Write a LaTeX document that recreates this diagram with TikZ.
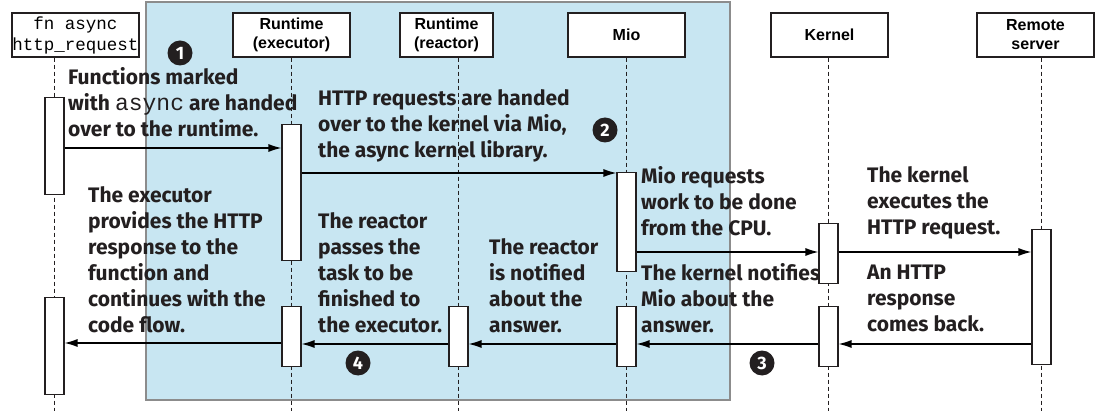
\documentclass[tikz,border=0pt]{standalone}
\usepackage{fontspec}
\usetikzlibrary{arrows.meta}
\newfontfamily\annotfont{Fira Sans}
\newfontfamily\hdrfont{Liberation Sans}
\newfontfamily\codefont{Liberation Mono}
\definecolor{panel}{RGB}{200,230,242}
\definecolor{ink}{RGB}{35,31,32}
\tikzset{
  hdr/.style={draw=ink, fill=white, line width=1.2pt, inner sep=0pt, minimum height=44pt, align=center,
    font=\hdrfont\bfseries\fontsize{16}{19}\selectfont},
  life/.style={draw=ink, dashed, line width=1pt, dash pattern=on 4pt off 3pt},
  act/.style={draw=ink, fill=white, line width=1.1pt, minimum width=19pt, inner sep=0pt},
  msg/.style={draw=black, line width=1.2pt, -{Latex[length=13pt,width=8pt]}},
  note/.style={anchor=base west, inner sep=0pt, align=left, text=ink,
    font=\annotfont\bfseries\fontsize{21}{26}\selectfont},
  num/.style={circle, fill=ink, text=white, minimum size=25pt, inner sep=0pt,
    font=\annotfont\bfseries\fontsize{18}{18}\selectfont}
}
\begin{document}
\begin{tikzpicture}[x=1pt,y=-1pt]
\useasboundingbox (0,0) rectangle (1097,411);
% panel
\filldraw[fill=panel, draw=black!45, line width=1.2pt] (146,2) rectangle (730,400);
% headers
\node[hdr, minimum width=127pt, font=\codefont\fontsize{17.5}{21}\selectfont] (hfn) at (75.5,35) {fn async\\http\_request};
\node[hdr, minimum width=117pt] (hex) at (291.5,35) {Runtime\\(executor)};
\node[hdr, minimum width=93pt] (hre) at (446.5,35) {Runtime\\(reactor)};
\node[hdr, minimum width=117pt] (hmio) at (626.5,35) {Mio};
\node[hdr, minimum width=117pt] (hker) at (829.5,35) {Kernel};
\node[hdr, minimum width=117pt] (hrem) at (1035.5,35) {Remote\\server};
% lifeline ends
\coordinate (efn) at (54.5,411);
\coordinate (eex) at (291.5,411);
\coordinate (ere) at (458.5,411);
\coordinate (emio) at (626.5,411);
\coordinate (eker) at (828.5,411);
\coordinate (erem) at (1041.5,411);
\draw[life] (efn |- hfn.south) -- (efn);
\draw[life] (eex |- hex.south) -- (eex);
\draw[life] (ere |- hre.south) -- (ere);
\draw[life] (emio |- hmio.south) -- (emio);
\draw[life] (eker |- hker.south) -- (eker);
\draw[life] (erem |- hrem.south) -- (erem);
% activations
\node[act, anchor=north, minimum height=97pt] (fa1) at (54.5,97) {};
\node[act, anchor=north, minimum height=97pt] (fa2) at (54.5,297) {};
\node[act, anchor=north, minimum height=136pt] (ea1) at (291.5,124) {};
\node[act, anchor=north, minimum height=60pt] (ea2) at (291.5,306) {};
\node[act, anchor=north, minimum height=60pt] (ra1) at (458.5,306) {};
\node[act, anchor=north, minimum height=99pt] (ma1) at (626.5,172) {};
\node[act, anchor=north, minimum height=60pt] (ma2) at (626.5,306) {};
\node[act, anchor=north, minimum height=60pt] (ka1) at (828.5,223) {};
\node[act, anchor=north, minimum height=60pt] (ka2) at (828.5,306) {};
\node[act, anchor=north, minimum height=135pt] (sa1) at (1041.5,229) {};
% messages
\draw[msg] (fa1.east |- 0,148) -- (ea1.west |- 0,148);
\draw[msg] (ea1.east |- 0,173) -- (ma1.west |- 0,173);
\draw[msg] (ma1.east |- 0,252) -- (ka1.west |- 0,252);
\draw[msg] (ka1.east |- 0,252) -- (sa1.west |- 0,252);
\draw[msg] (sa1.west |- 0,344) -- (ka2.east |- 0,344);
\draw[msg] (ka2.west |- 0,344) -- (ma2.east |- 0,344);
\draw[msg] (ma2.west |- 0,344) -- (ra1.east |- 0,344);
\draw[msg] (ra1.west |- 0,344) -- (ea2.east |- 0,344);
\draw[msg] (ea2.west |- 0,343) -- (fa2.east |- 0,343);
% notes (anchored at the baseline of the last line)
\node[note] (n1) at (68,137) {Functions marked\\with {\codefont\mdseries\fontsize{23}{26}\selectfont async} are handed\\over to the runtime.};
\node[note] (n2) at (318,158) {HTTP requests are handed\\over to the kernel via Mio,\\the async kernel library.};
\node[note] (n3) at (641,236) {Mio requests\\work to be done\\from the CPU.};
\node[note] (n4) at (867,235) {The kernel\\executes the\\HTTP request.};
\node[note] (n5) at (88,333) {The executor\\provides the HTTP\\response to the\\function and\\continues with the\\code flow.};
\node[note] (n6) at (318,333) {The reactor\\passes the\\task to be\\finished to\\the executor.};
\node[note] (n7) at (489,333) {The reactor\\is notified\\about the\\answer.};
\node[note] (n8) at (641,333) {The kernel notifies\\Mio about the\\answer.};
\node[note] (n9) at (867,332) {An HTTP\\response\\comes back.};
% numbers
\node[num] (c1) at (180,53) {1};
\node[num] (c2) at (605,130) {2};
\node[num] (c3) at (762,363) {3};
\node[num] (c4) at (358,363) {4};
\end{tikzpicture}
\end{document}
